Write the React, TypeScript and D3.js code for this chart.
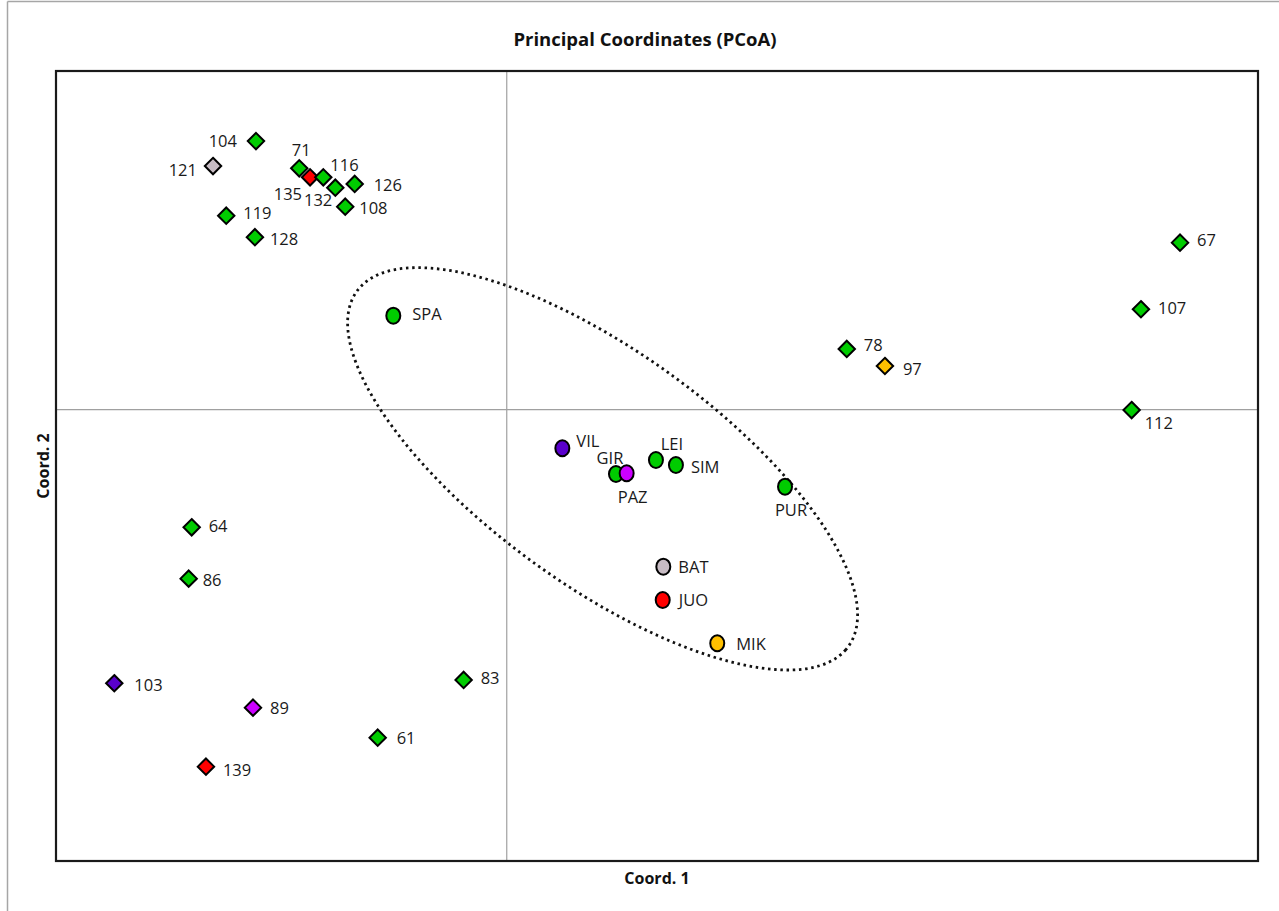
import React from "react";
import * as d3 from "d3";

// Accessions (diamonds) and populations (circles) on the first two principal coordinates.
const accessionIds = ["104", "121", "119", "128", "71", "135", "116", "132", "126", "108", "67", "107", "78", "97", "112", "64", "86", "103", "89", "83", "61", "139"];
const accessionCoord1 = [-0.1669, -0.1955, -0.1867, -0.1676, -0.1381, -0.1309, -0.1221, -0.1141, -0.1012, -0.1075, 0.4481, 0.4221, 0.2263, 0.2517, 0.4159, -0.2097, -0.2117, -0.2612, -0.1689, -0.0287, -0.0859, -0.2002];
const accessionCoord2 = [0.2379, 0.2158, 0.1718, 0.1527, 0.2138, 0.2058, 0.2058, 0.1966, 0.1999, 0.1798, 0.1479, 0.0889, 0.0537, 0.0386, -0.0004, -0.1043, -0.1498, -0.2425, -0.2641, -0.2396, -0.2907, -0.3164];
const accessionGroup = ["G", "B", "G", "G", "G", "R", "G", "G", "G", "G", "G", "G", "G", "Y", "G", "G", "G", "V", "M", "G", "G", "R"];

const populationIds = ["SPA", "VIL", "GIR", "PAZ", "LEI", "SIM", "PUR", "BAT", "JUO", "MIK"];
const populationCoord1 = [-0.0755, 0.037, 0.0727, 0.0798, 0.0993, 0.1126, 0.1852, 0.1042, 0.1038, 0.1401];
const populationCoord2 = [0.0832, -0.0343, -0.0571, -0.0564, -0.0447, -0.0491, -0.0683, -0.1392, -0.1687, -0.2071];
const populationGroup = ["G", "V", "G", "M", "G", "G", "G", "B", "R", "Y"];

// Confidence ellipse: centre and the two semi-axis vectors, in coordinate units.
const ellipseCentre = [0.0638, -0.0525];
const ellipseMajor = [0.1635, -0.1575];
const ellipseMinor = [-0.0455, -0.0835];

const coord1Domain = [-0.3, 0.5];
const coord2Domain = [-0.4, 0.3];

const titleText = "Principal Coordinates (PCoA)";
const xTitle = "Coord. 1";
const yTitle = "Coord. 2";

const groupColour: Record<string, string> = {
  G: "#00cc00",
  R: "#ff0000",
  B: "#c8bcc4",
  Y: "#ffc000",
  V: "#5a00cc",
  M: "#cc00ff",
};

// Label offsets (dx, dy from marker centre) and text anchor.
const labelPlace: Record<string, [number, number, string]> = {
  "104": [-19, -1, "end"],
  "121": [-16, 3, "end"],
  "71": [2, -19, "middle"],
  "116": [7, -13, "start"],
  "135": [-8, 16, "end"],
  "132": [-3, 12, "end"],
  "126": [19, 1, "start"],
  "108": [14, 1, "start"],
  "119": [17, -3, "start"],
  "128": [15, 1, "start"],
  "67": [17, -3, "start"],
  "107": [17, -2, "start"],
  "112": [13, 12, "start"],
  "78": [17, -4, "start"],
  "97": [18, 2, "start"],
  "64": [17, -2, "start"],
  "86": [14, 1, "start"],
  "103": [20, 1, "start"],
  "89": [17, 0, "start"],
  "83": [17, -2, "start"],
  "61": [19, 0, "start"],
  "139": [17, 3, "start"],
  SPA: [19, -2, "start"],
  VIL: [14, -8, "start"],
  GIR: [-6, -17, "middle"],
  PAZ: [6, 23, "middle"],
  LEI: [16, -17, "middle"],
  SIM: [15, 2, "start"],
  PUR: [6, 23, "middle"],
  BAT: [15, 0, "start"],
  JUO: [16, 0, "start"],
  MIK: [19, 0, "start"],
};

const W = 1279;
const H = 911;
const plot = { left: 56, top: 71, right: 1258, bottom: 861 };
const FONT = "'Open Sans', 'DejaVu Sans', sans-serif";

export default function App() {
  const x = d3.scaleLinear().domain(coord1Domain).range([plot.left, plot.right]);
  const y = d3.scaleLinear().domain(coord2Domain).range([plot.bottom, plot.top]);

  const ellipsePts: [number, number][] = d3.range(0, 360, 2).map((deg) => {
    const t = (deg * Math.PI) / 180;
    const cx = ellipseCentre[0] + Math.cos(t) * ellipseMajor[0] + Math.sin(t) * ellipseMinor[0];
    const cy = ellipseCentre[1] + Math.cos(t) * ellipseMajor[1] + Math.sin(t) * ellipseMinor[1];
    return [x(cx), y(cy)];
  });
  const ellipsePath = d3.line().curve(d3.curveCardinalClosed)(ellipsePts) || "";

  const diamond = (cx: number, cy: number, r: number) =>
    `M${cx},${cy - r}L${cx + r},${cy}L${cx},${cy + r}L${cx - r},${cy}Z`;

  const label = (id: string, px: number, py: number) => {
    const [dx, dy, anchor] = labelPlace[id] || [15, 0, "start"];
    return (
      <text
        key={"l" + id}
        x={px + dx}
        y={py + dy}
        textAnchor={anchor as any}
        dominantBaseline="central"
        fontFamily={FONT}
        fontSize={16.5}
        fill="#1a1a1a"
      >
        {id}
      </text>
    );
  };

  return (
    <svg
      width={W}
      height={H}
      style={{ position: "absolute", left: 0, top: 0, background: "#fff" }}
    >
      <rect x={0} y={0} width={W} height={H} fill="#fff" />
      {/* chart area frame */}
      <line x1={7.5} y1={1.5} x2={W} y2={1.5} stroke="#a6a6a6" strokeWidth={1.5} />
      <line x1={7.5} y1={1.5} x2={7.5} y2={H} stroke="#a6a6a6" strokeWidth={1.5} />

      <text
        x={645}
        y={38}
        textAnchor="middle"
        dominantBaseline="central"
        fontFamily={FONT}
        fontWeight="bold"
        fontSize={18.5}
        fill="#111"
      >
        {titleText}
      </text>

      {/* zero lines */}
      <line x1={x(0)} x2={x(0)} y1={plot.top} y2={plot.bottom} stroke="#a0a0a0" strokeWidth={1.2} />
      <line x1={plot.left} x2={plot.right} y1={y(0)} y2={y(0)} stroke="#a0a0a0" strokeWidth={1.2} />

      <rect
        x={plot.left}
        y={plot.top}
        width={plot.right - plot.left}
        height={plot.bottom - plot.top}
        fill="none"
        stroke="#1a1a1a"
        strokeWidth={2.2}
      />

      <path
        d={ellipsePath}
        fill="none"
        stroke="#111"
        strokeWidth={2.8}
        strokeDasharray="2.5 3.7"
      />

      {accessionIds.map((id, i) => (
        <path
          key={"d" + id}
          d={diamond(x(accessionCoord1[i]), y(accessionCoord2[i]), 8.2)}
          fill={groupColour[accessionGroup[i]]}
          stroke="#000"
          strokeWidth={2}
          strokeLinejoin="miter"
        />
      ))}
      {accessionIds.map((id, i) => label(id, x(accessionCoord1[i]), y(accessionCoord2[i])))}

      {populationIds.map((id, i) => (
        <ellipse
          key={"c" + id}
          cx={x(populationCoord1[i])}
          cy={y(populationCoord2[i])}
          rx={7}
          ry={8}
          fill={groupColour[populationGroup[i]]}
          stroke="#000"
          strokeWidth={2}
        />
      ))}
      {populationIds.map((id, i) => label(id, x(populationCoord1[i]), y(populationCoord2[i])))}

      <text
        x={(plot.left + plot.right) / 2}
        y={878}
        textAnchor="middle"
        dominantBaseline="central"
        fontFamily={FONT}
        fontWeight="bold"
        fontSize={16}
        fill="#111"
      >
        {xTitle}
      </text>
      <text
        transform={`translate(43, ${(plot.top + plot.bottom) / 2}) rotate(-90)`}
        textAnchor="middle"
        dominantBaseline="central"
        fontFamily={FONT}
        fontWeight="bold"
        fontSize={16}
        fill="#111"
      >
        {yTitle}
      </text>
    </svg>
  );
}
